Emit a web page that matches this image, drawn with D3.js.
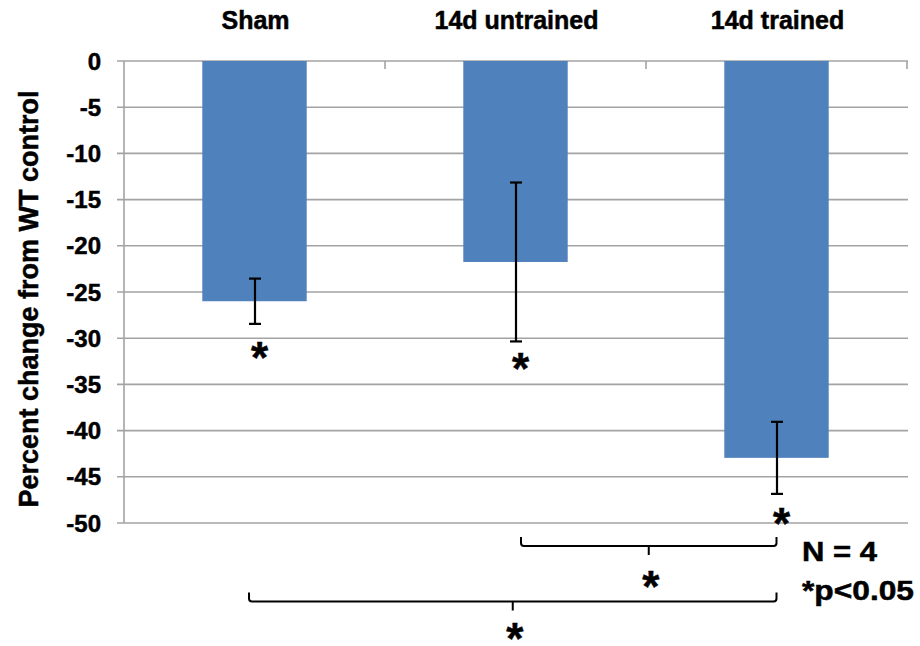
<!DOCTYPE html>
<html>
<head>
<meta charset="utf-8">
<script src="https://cdn.jsdelivr.net/npm/d3@7"></script>
<style>
  html, body { margin: 0; padding: 0; background: #fff; }
  svg { display: block; }
  text { font-family: "Liberation Sans", Arial, sans-serif; font-weight: bold; fill: #000; stroke: #000; stroke-width: 0.5px; }
</style>
</head>
<body>
<svg id="chart" width="920" height="646"></svg>
<script>
// ---- data ----
const categories = ["Sham", "14d untrained", "14d trained"];
const values = [-26.0, -21.75, -42.95];
const errors = [2.45, 8.6, 3.9];
const yTicks = [0, -5, -10, -15, -20, -25, -30, -35, -40, -45, -50];
const yLabel = "Percent change from WT control";
// significance star under each bar (value units)
const starValues = [-31.5, -32.7, -49.45];
// comparison brackets: category indices, bracket level and star level (value units)
const bracketFrom = [1, 0];
const bracketTo = [2, 2];
const bracketLevel = [-52.5, -58.5];
const bracketStar = [-56.2, -61.9];
const notes = ["N = 4", "*p<0.05"];

// ---- layout ----
const svg = d3.select("#chart");
const plotL = 124, plotR = 907, plotT = 61, plotB = 523;

const x = d3.scaleBand().domain(categories).range([plotL, plotR])
  .paddingInner(0.6).paddingOuter(0.3);
const y = d3.scaleLinear().domain([0, -50]).range([plotT, plotB]);
const cx = i => x(categories[i]) + x.bandwidth() / 2;

// gridlines
svg.append("g").selectAll("line").data(yTicks).join("line")
  .attr("x1", plotL - 7).attr("x2", plotR + 1)
  .attr("y1", d => y(d)).attr("y2", d => y(d))
  .attr("stroke", "#a3a3a3").attr("stroke-width", 1.6);

// y axis line
svg.append("line").attr("x1", plotL).attr("x2", plotL)
  .attr("y1", y(0)).attr("y2", y(-50))
  .attr("stroke", "#a3a3a3").attr("stroke-width", 1.6);

// category boundary ticks (pointing down from the zero line)
const step = x.step();
svg.append("g").selectAll("line").data(d3.range(1, categories.length + 1)).join("line")
  .attr("x1", i => plotL + i * step).attr("x2", i => plotL + i * step)
  .attr("y1", y(0)).attr("y2", y(0) + 8)
  .attr("stroke", "#a3a3a3").attr("stroke-width", 1.6);

// y tick labels
svg.append("g").selectAll("text").data(yTicks).join("text")
  .attr("x", plotL - 23).attr("y", d => y(d))
  .attr("dy", "0.36em")
  .attr("text-anchor", "end")
  .attr("font-size", 24)
  .text(d => d);

// y axis title
svg.append("text")
  .attr("transform", `translate(38, 299) rotate(-90)`)
  .attr("text-anchor", "middle")
  .attr("font-size", 27)
  .text(yLabel);

// category labels at top
svg.append("g").selectAll("text").data(categories).join("text")
  .attr("x", (d, i) => cx(i) + 1).attr("y", 29)
  .attr("text-anchor", "middle")
  .attr("font-size", 25)
  .text(d => d);

// bars
svg.append("g").selectAll("rect").data(values).join("rect")
  .attr("x", (d, i) => x(categories[i]))
  .attr("width", x.bandwidth())
  .attr("y", y(0))
  .attr("height", d => y(d) - y(0))
  .attr("fill", "#4f81bd");

// error bars
const eb = svg.append("g").attr("stroke", "#000").attr("stroke-width", 2.2);
values.forEach((v, i) => {
  const xc = cx(i) + 0.5;
  const y1 = y(v + errors[i]), y2 = y(v - errors[i]);
  eb.append("line").attr("x1", xc).attr("x2", xc).attr("y1", y1).attr("y2", y2);
  eb.append("line").attr("x1", xc - 6).attr("x2", xc + 6).attr("y1", y1).attr("y2", y1);
  eb.append("line").attr("x1", xc - 6).attr("x2", xc + 6).attr("y1", y2).attr("y2", y2);
});

// star helper: centre the asterisk glyph on (px, py)
const starSize = 44;
function star(px, py) {
  svg.append("text")
    .attr("x", px).attr("y", py + starSize * 0.485)
    .attr("text-anchor", "middle")
    .attr("font-size", starSize)
    .text("*");
}
starValues.forEach((s, i) => star(cx(i) + 5, y(s)));

// brackets
bracketFrom.forEach((a, k) => {
  const x1 = cx(a) + (a === 0 ? -5.5 : 5.5);
  const x2 = cx(bracketTo[k]);
  const yl = y(bracketLevel[k]);
  const xm = (x1 + x2) / 2;
  const r = 3;
  const p = d3.path();
  p.moveTo(x1, yl - 9);
  p.lineTo(x1, yl - r);
  p.quadraticCurveTo(x1, yl, x1 + r, yl);
  p.lineTo(x2 - r, yl);
  p.quadraticCurveTo(x2, yl, x2, yl - r);
  p.lineTo(x2, yl - 9);
  p.moveTo(xm, yl);
  p.lineTo(xm, yl + 9);
  svg.append("path").attr("d", p.toString())
    .attr("fill", "none").attr("stroke", "#000").attr("stroke-width", 2);
  star(xm + 2, y(bracketStar[k]));
});

// notes
const noteWidths = [75, 112];
notes.forEach((t, i) => {
  svg.append("text")
    .attr("x", 802).attr("y", 561 + i * 39)
    .attr("font-size", 27)
    .attr("textLength", noteWidths[i])
    .attr("lengthAdjust", "spacingAndGlyphs")
    .text(t);
});
</script>
</body>
</html>
